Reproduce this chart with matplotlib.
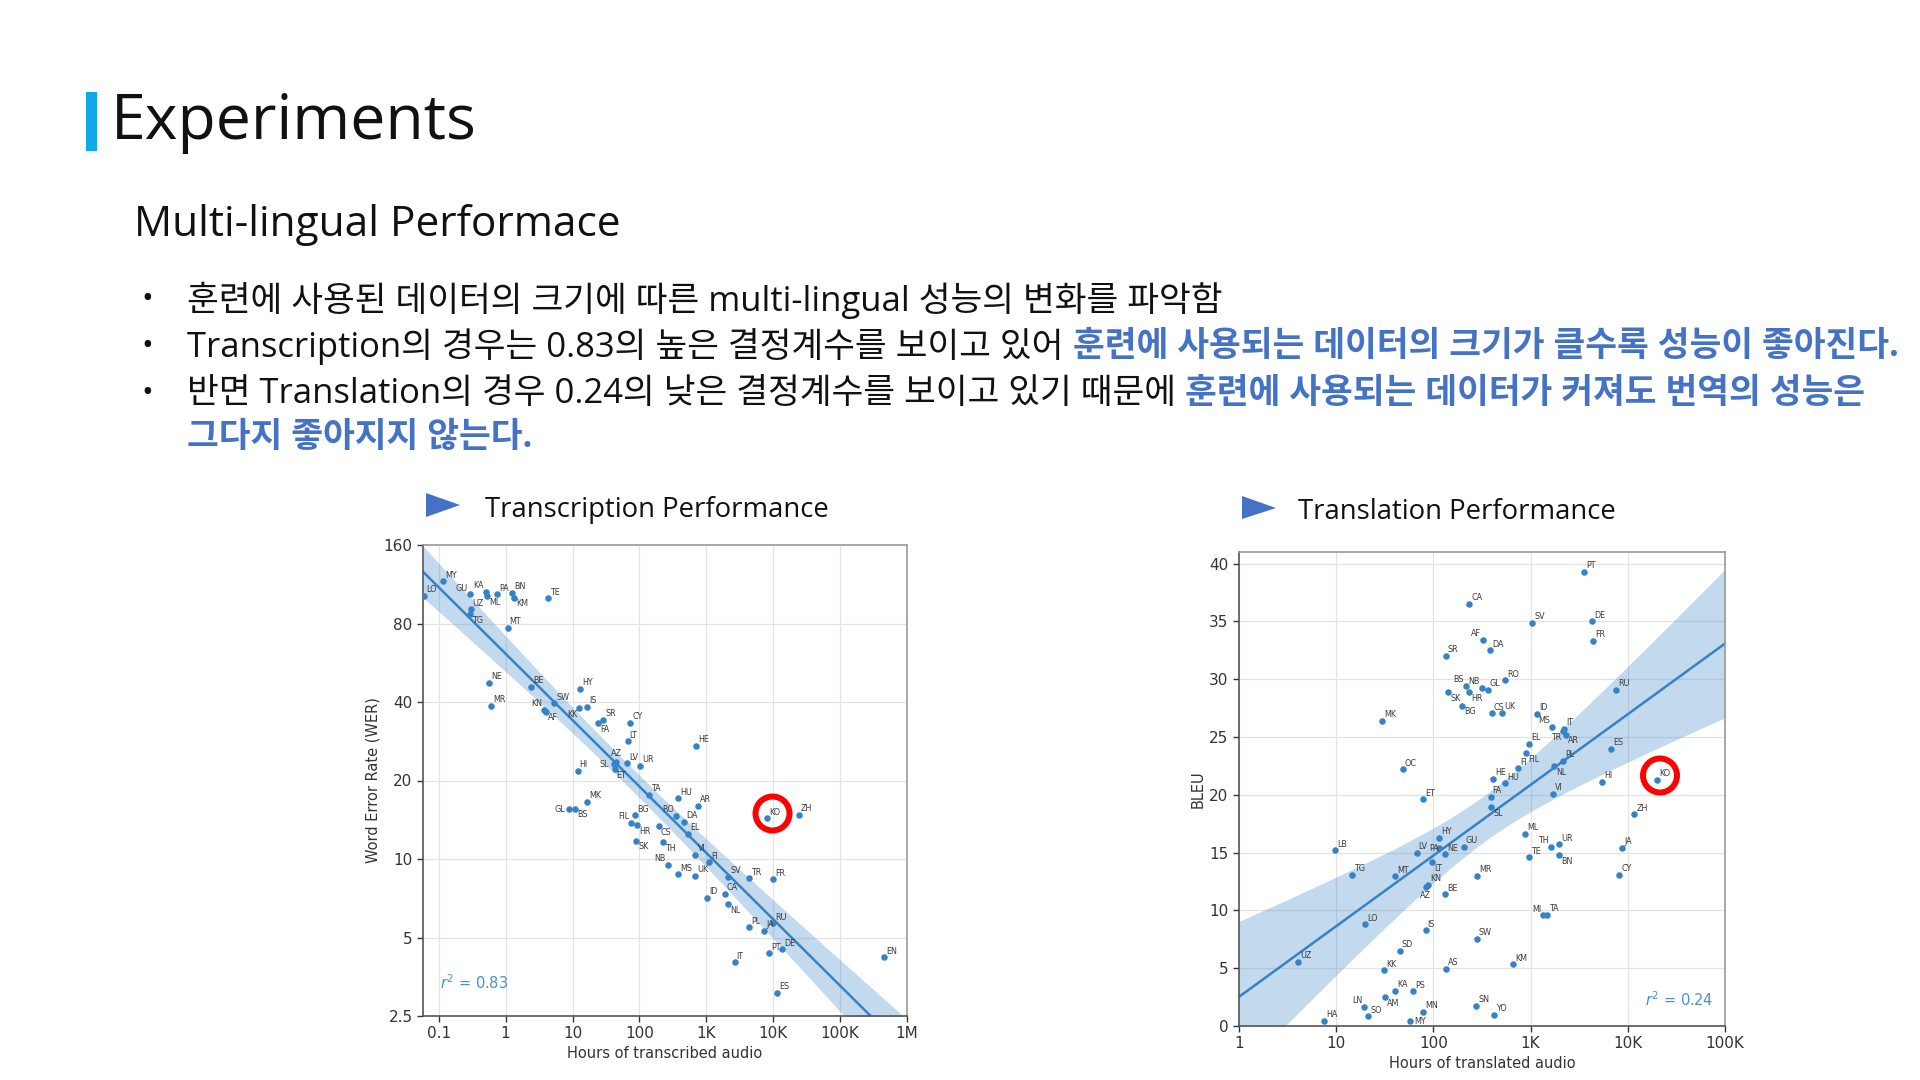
import numpy as np
import matplotlib
matplotlib.use('Agg')
import matplotlib.pyplot as plt
from matplotlib.patches import Polygon, Ellipse
from matplotlib.ticker import FixedLocator, NullLocator, FixedFormatter

# ---------------- data: transcription (left) ----------------
asr_langs = ['LO', 'MY', 'GU', 'KA', 'ML', 'PA', 'BN', 'KM', 'TE', 'UZ', 'TG', 'MT',
             'NE', 'MR', 'BE', 'SW', 'KN', 'AF', 'HY', 'KK', 'IS', 'SR', 'FA', 'CY',
             'LT', 'AZ', 'SL', 'ET', 'LV', 'UR', 'HI', 'HE', 'GL', 'BS', 'MK', 'TA',
             'BG', 'FIL', 'HR', 'SK', 'HU', 'AR', 'RO', 'DA', 'EL', 'CS', 'TH', 'NB',
             'MS', 'UK', 'VI', 'FI', 'SV', 'TR', 'FR', 'ID', 'CA', 'NL', 'PL', 'JA',
             'RU', 'PT', 'DE', 'IT', 'ES', 'EN', 'KO', 'ZH']
asr_hours = [0.06, 0.116, 0.29, 0.51, 0.53, 0.75, 1.26, 1.33, 4.27, 0.30, 0.29, 1.07,
             0.56, 0.60, 2.37, 5.36, 3.79, 4.02, 13.0, 12.6, 16.6, 28.5, 23.9, 73,
             66.5, 45, 41, 42.6, 65, 103, 11.9, 697, 8.9, 10.9, 16.4, 137,
             87, 76, 92, 90, 379, 746, 357, 471, 535, 194, 223, 265,
             379, 689, 689, 1091, 2130, 4340, 9930, 1030, 1890, 2100, 4340, 7280,
             10070, 8650, 13700, 2650, 11270, 449000, 8000, 23900]
asr_wer = [102, 116, 103.5, 106, 102, 103.5, 105, 100.5, 100, 90.7, 86.8, 77,
           47.4, 38.6, 45.8, 39.5, 37.3, 36.7, 44.8, 37.8, 38.4, 34.1, 33.2, 33.2,
           28.3, 23.5, 23.1, 22.1, 23.3, 22.7, 21.8, 27.2, 15.5, 15.6, 16.6, 17.6,
           14.7, 13.8, 13.5, 11.75, 17.1, 16.0, 14.6, 13.9, 12.5, 13.4, 11.6, 9.5,
           8.74, 8.6, 10.36, 9.71, 8.56, 8.43, 8.36, 7.1, 7.34, 6.72, 5.47, 5.3,
           5.67, 4.35, 4.51, 4.02, 3.07, 4.2, 14.3, 14.75]
asr_xticks = [0.1, 1, 10, 100, 1e3, 1e4, 1e5, 1e6]
asr_xticklabels = ['0.1', '1', '10', '100', '1K', '10K', '100K', '1M']
asr_yticks = [2.5, 5, 10, 20, 40, 80, 160]
asr_yticklabels = ['2.5', '5', '10', '20', '40', '80', '160']

# ---------------- data: translation (right) ----------------
st_langs = ['PT', 'CA', 'SV', 'DE', 'FR', 'AF', 'DA', 'SR', 'RO', 'BS', 'NB', 'GL',
            'HR', 'SK', 'RU', 'BG', 'CS', 'UK', 'ID', 'MK', 'MS', 'IT', 'TR', 'AR',
            'ES', 'EL', 'FIL', 'FI', 'PL', 'NL', 'OC', 'HE', 'HU', 'HI', 'KO', 'VI',
            'FA', 'ET', 'SL', 'ZH', 'ML', 'HY', 'TH', 'UR', 'GU', 'JA', 'PA', 'LB',
            'LV', 'NE', 'BN', 'TE', 'LT', 'TG', 'CY', 'MR', 'MT', 'KN', 'AZ', 'BE',
            'MI', 'TA', 'LO', 'IS', 'SW', 'SD', 'UZ', 'KM', 'AS', 'KK', 'KA', 'PS',
            'AM', 'SN', 'LN', 'MN', 'YO', 'SO', 'HA', 'MY']
st_hours = [3570, 232, 1040, 4260, 4420, 326, 382, 134, 545, 214, 313, 361,
            234, 142, 7580, 198, 397, 504, 1155, 29.7, 1674, 2225, 2170, 2315,
            6680, 963, 891, 747, 2170, 1754, 48.2, 413, 545, 5400, 19900, 1714,
            388, 78.5, 391, 11600, 876, 115, 1610, 1962, 206, 8800, 115, 9.68,
            67.1, 131, 1962, 970, 97.2, 14.7, 8190, 283, 40.1, 88.4, 83.7, 131,
            1352, 1486, 19.7, 83.1, 279, 45.2, 4.05, 664, 134.5, 30.9, 40.1, 62,
            31.7, 274, 19.4, 78.5, 423, 21.3, 7.45, 57.3]
st_bleu = [39.3, 36.5, 34.9, 35.0, 33.3, 33.4, 32.5, 32.0, 29.9, 29.4, 29.25, 29.1,
           28.9, 28.9, 29.1, 27.7, 27.05, 27.1, 27.0, 26.4, 25.9, 25.7, 25.5, 25.2,
           24.0, 24.4, 23.6, 22.3, 22.96, 22.5, 22.2, 21.4, 21.0, 21.1, 21.3, 20.1,
           19.8, 19.6, 18.9, 18.3, 16.6, 16.3, 15.5, 15.7, 15.5, 15.4, 15.4, 15.2,
           14.95, 14.84, 14.8, 14.6, 14.2, 13.1, 13.1, 13.0, 12.96, 12.2, 12.0, 11.4,
           9.57, 9.6, 8.8, 8.27, 7.55, 6.48, 5.53, 5.33, 4.96, 4.81, 3.02, 3.0,
           2.5, 1.73, 1.64, 1.21, 0.99, 0.84, 0.43, 0.43]
st_xticks = [1, 10, 100, 1e3, 1e4, 1e5]
st_xticklabels = ['1', '10', '100', '1K', '10K', '100K']
st_yticks = [0, 5, 10, 15, 20, 25, 30, 35, 40]

# ---------------- label placement (layout) ----------------
asr_label_pos = {'GU': 'ul', 'KA': 'ul', 'ML': 'dr', 'KM': 'dr', 'TG': 'dr', 'KN': 'ul',
                 'AF': 'dr', 'KK': 'dl', 'FA': 'dr', 'AZ': 'u', 'SL': 'l', 'ET': 'dr',
                 'GL': 'l', 'BS': 'dr', 'FIL': 'ul', 'HR': 'dr', 'SK': 'dr', 'CS': 'dr',
                 'TH': 'dr', 'NB': 'ul', 'RO': 'ul', 'NL': 'dr'}
st_label_pos = {'AF': 'ul', 'BS': 'ul', 'NB': 'ul', 'HR': 'dr', 'SK': 'dr', 'BG': 'dr',
                'MS': 'ul', 'TR': 'dl', 'AR': 'dr', 'FIL': 'dr', 'NL': 'dr', 'SL': 'dr',
                'LT': 'dr', 'PA': 'l0', 'AZ': 'd', 'BN': 'dr', 'MI': 'ul', 'TH': 'ul',
                'AM': 'dr', 'MY': 'r', 'LN': 'ul'}
OFF = {'ur': (1.5, 1.2, 'left', 'bottom'), 'dr': (1.5, -1.2, 'left', 'top'),
       'ul': (-1.5, 1.2, 'right', 'bottom'), 'dl': (-1.5, -1.2, 'right', 'top'),
       'l': (-3, 0, 'right', 'center'), 'l0': (-0.4, -0.5, 'right', 'center'),
       'r': (3, 0, 'left', 'center'),
       'd': (0, -3, 'center', 'top'), 'u': (0, 3, 'center', 'bottom')}

W, H = 1920, 1080
fig = plt.figure(figsize=(19.2, 10.8), dpi=100)
fig.patch.set_facecolor('white')


def fx(x):
    return x / W


def fy(y):
    return 1 - y / H


KR = ['Open Sans', 'Noto Sans CJK KR', 'DejaVu Sans']
BLUE_TXT = '#4472C4'
DOT = '#3583c6'
BAND = '#3a86c8'

# ---------------- slide header ----------------
fig.add_artist(plt.Rectangle((fx(86), fy(151)), 11 / W, 59 / H, transform=fig.transFigure,
                             color='#10A8E8', lw=0))
fig.text(fx(111), fy(123), 'Experiments', fontsize=45, family=KR, va='center', ha='left',
         color='#111111')
fig.text(fx(134), fy(225), 'Multi-lingual Performace', fontsize=30.5, family=KR, va='center',
         ha='left', color='#111111')

renderer = fig.canvas.get_renderer()
BSIZE = 24.9


def rich_line(x, y, parts):
    cur = x
    for txt, color, weight in parts:
        t = fig.text(fx(cur), fy(y), txt, fontsize=BSIZE, color=color, fontweight=weight,
                     family=KR, va='center', ha='left')
        bb = t.get_window_extent(renderer=renderer)
        cur += bb.width + 0.27 * BSIZE * 100 / 72


for yb in (300.5, 347, 393.5):
    fig.text(fx(147), fy(yb), '•', fontsize=BSIZE * 0.9, family=KR, va='center', ha='center',
             color='#111111')

rich_line(187, 300.5, [('훈련에 사용된 데이터의 크기에 따른 multi-lingual 성능의 변화를 파악함', '#111111', 'normal')])
rich_line(187, 347, [('Transcription의 경우는 0.83의 높은 결정계수를 보이고 있어', '#111111', 'normal'),
                     ('훈련에 사용되는 데이터의 크기가 클수록 성능이 좋아진다.', BLUE_TXT, 'bold')])
rich_line(187, 393.5, [('반면 Translation의 경우 0.24의 낮은 결정계수를 보이고 있기 때문에', '#111111', 'normal'),
                       ('훈련에 사용되는 데이터가 커져도 번역의 성능은', BLUE_TXT, 'bold')])
rich_line(187, 437.5, [('그다지 좋아지지 않는다.', BLUE_TXT, 'bold')])

# ---------------- chart subtitles ----------------
for (x0, y0, x1, y1, ym), (tx, ty, label) in zip(
        [(426, 493, 460, 517, 505), (1242, 496, 1276, 519, 508)],
        [(485, 510.5, 'Transcription Performance'), (1298, 512, 'Translation Performance')]):
    fig.add_artist(Polygon([(fx(x0), fy(y0)), (fx(x0), fy(y1)), (fx(x1), fy(ym))],
                           closed=True, transform=fig.transFigure, color='#4472C4', lw=0))
    fig.text(fx(tx), fy(ty), label, fontsize=19.8, family=KR, va='center', ha='left',
             color='#111111')


# ---------------- regression helper ----------------
def fit_band(xv, yv, grid, tcrit=1.997):
    X = np.column_stack([np.ones_like(xv), xv])
    beta = np.linalg.lstsq(X, yv, rcond=None)[0]
    resid = yv - X @ beta
    s2 = np.sum(resid ** 2) / (len(xv) - 2)
    inv = np.linalg.inv(X.T @ X)
    G = np.column_stack([np.ones_like(grid), grid])
    pred = G @ beta
    se = np.sqrt(s2 * np.sum((G @ inv) * G, axis=1))
    return pred, pred - tcrit * se, pred + tcrit * se


def style_axes(ax):
    ax.grid(True, color='#e3e3e3', lw=0.9)
    ax.set_axisbelow(True)
    for side in ('left', 'bottom'):
        ax.spines[side].set_color('#555555')
        ax.spines[side].set_linewidth(1.2)
    for side in ('top', 'right'):
        ax.spines[side].set_color('#9a9a9a')
        ax.spines[side].set_linewidth(1.2)
    ax.tick_params(axis='both', labelsize=11, colors='#333333', length=4, width=1)
    ax.xaxis.set_minor_locator(NullLocator())
    ax.yaxis.set_minor_locator(NullLocator())


def put_labels(ax, xs, ys, names, posmap):
    for x, y, n in zip(xs, ys, names):
        dx, dy, ha, va = OFF[posmap.get(n, 'ur')]
        ax.annotate(n, (x, y), xytext=(dx, dy), textcoords='offset points', ha=ha, va=va,
                    fontsize=5.8, color='#3a3a3a', family='DejaVu Sans')


# ---------------- left chart ----------------
axL = fig.add_axes([fx(423), fy(1016), 484 / W, 471 / H])
xa = np.array(asr_hours, float)
ya = np.array(asr_wer, float)
axL.set_xscale('log')
axL.set_yscale('log', base=2)
axL.set_xlim(0.0582, 1e6)
axL.set_ylim(2.5, 160)
gl = np.linspace(np.log10(0.0582), 6, 200)
p, lo, hi = fit_band(np.log10(xa), np.log10(ya), gl)
axL.fill_between(10 ** gl, 10 ** lo, 10 ** hi, color=BAND, alpha=0.3, lw=0)
axL.plot(10 ** gl, 10 ** p, color=DOT, lw=1.8)
axL.scatter(xa, ya, s=22, color=DOT, zorder=3, lw=0)
put_labels(axL, xa, ya, asr_langs, asr_label_pos)
style_axes(axL)
axL.xaxis.set_major_locator(FixedLocator(asr_xticks))
axL.xaxis.set_major_formatter(FixedFormatter(asr_xticklabels))
axL.yaxis.set_major_locator(FixedLocator(asr_yticks))
axL.yaxis.set_major_formatter(FixedFormatter(asr_yticklabels))
axL.set_xlabel('Hours of transcribed audio', fontsize=10.5, color='#333333', labelpad=3)
axL.set_ylabel('Word Error Rate (WER)', fontsize=10.5, color='#333333', labelpad=2.5)
axL.text(0.035, 0.07, r'$r^2$ = 0.83', transform=axL.transAxes, fontsize=10.5,
         color='#4a8fd0', ha='left', va='center')

# ---------------- right chart ----------------
axR = fig.add_axes([fx(1239), fy(1026), 486 / W, 474 / H])
xb = np.array(st_hours, float)
yb = np.array(st_bleu, float)
axR.set_xscale('log')
axR.set_xlim(1, 1e5)
axR.set_ylim(0, 41)
gr = np.linspace(0, 5, 200)
p, lo, hi = fit_band(np.log10(xb), yb, gr)
axR.fill_between(10 ** gr, lo, hi, color=BAND, alpha=0.3, lw=0)
axR.plot(10 ** gr, p, color=DOT, lw=1.8)
axR.scatter(xb, yb, s=22, color=DOT, zorder=3, lw=0)
put_labels(axR, xb, yb, st_langs, st_label_pos)
style_axes(axR)
axR.xaxis.set_major_locator(FixedLocator(st_xticks))
axR.xaxis.set_major_formatter(FixedFormatter(st_xticklabels))
axR.yaxis.set_major_locator(FixedLocator(st_yticks))
axR.set_xlabel('Hours of translated audio', fontsize=10.5, color='#333333', labelpad=3)
axR.set_ylabel('BLEU', fontsize=10.5, color='#333333', labelpad=2.5)
axR.text(0.835, 0.055, r'$r^2$ = 0.24', transform=axR.transAxes, fontsize=10.5,
         color='#4a8fd0', ha='left', va='center')

# ---------------- red highlight circles ----------------
for cx, cy in ((772.5, 813.5), (1660, 775.5)):
    fig.add_artist(Ellipse((fx(cx), fy(cy)), 34 / W, 34 / H, transform=fig.transFigure,
                           fill=False, edgecolor='#FF0000', lw=4.3, zorder=10))

fig.savefig('out.png', dpi=100, facecolor='white')
